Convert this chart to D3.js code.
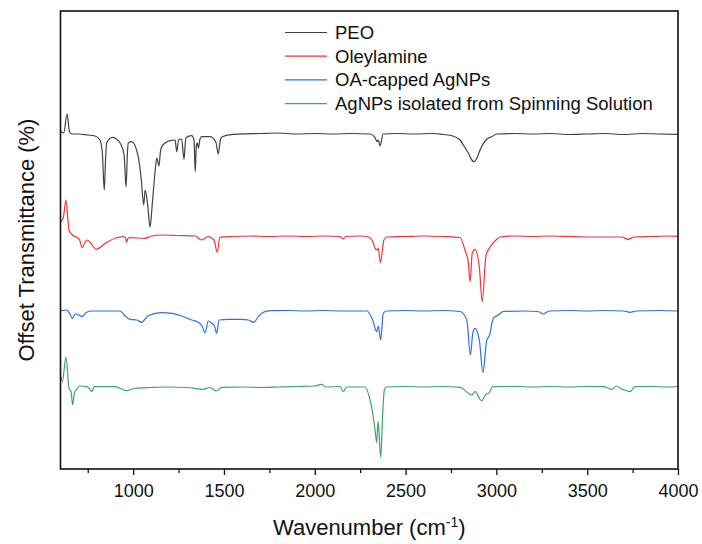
<!DOCTYPE html>
<html>
<head>
<meta charset="utf-8">
<script src="https://cdn.jsdelivr.net/npm/d3@7"></script>
<style>
  body { margin: 0; background: #fff; }
  text { font-family: "Liberation Sans", Arial, sans-serif; fill: #111; }
</style>
</head>
<body>
<svg id="chart" width="702" height="544"></svg>
<script>
// series names + colors (legend order)
var seriesNames = ['PEO', 'Oleylamine', 'OA-capped AgNPs', 'AgNPs isolated from Spinning Solution'];
var seriesColors = ['#404040', '#e8383e', '#3170d6', '#3ca46c'];

var majorTicks = [1000, 1500, 2000, 2500, 3000, 3500, 4000];
var minorTicks = [750, 1250, 1750, 2250, 2750, 3250, 3750];

// [wavenumber, offset transmittance]
var peo = [[600, 33.8], [618, 33.6], [636, 35.5], [650, 33.7], [665, 33.5], [700, 33.5], [750, 33.4],
    [790, 33.3], [817, 32.9], [830, 31.7], [841, 27.9], [848, 30.9], [854, 32.6], [885, 33.17],
    [928, 32.6], [950, 31.4], [961, 28.2], [968, 31.4], [973, 32.6], [992, 32.73], [1028, 31.23],
    [1045, 28.9], [1058, 26.4], [1066, 27.9], [1080, 26.4], [1093, 24.2], [1105, 26.4], [1120, 29.6],
    [1130, 31.1], [1142, 30.3], [1150, 31.7], [1157, 32.23], [1203, 32.83], [1231, 32.9], [1240, 31.73],
    [1250, 32.9], [1267, 33.0], [1280, 30.97], [1290, 33.1], [1322, 33.33], [1335, 32.9], [1342, 29.73],
    [1348, 32.4], [1354, 32.6], [1359, 32.07], [1368, 33.0], [1377, 33.23], [1423, 33.23], [1455, 32.7],
    [1469, 31.5], [1480, 32.9], [1490, 33.23], [1551, 33.47], [1700, 33.55], [1800, 33.6], [1900, 33.5],
    [2000, 33.55], [2100, 33.5], [2200, 33.55], [2304, 33.5], [2330, 33.2], [2344, 32.73], [2350, 32.9],
    [2359, 32.33], [2377, 33.5], [2450, 33.55], [2550, 33.5], [2650, 33.55], [2708, 33.45], [2760, 33.3],
    [2800, 32.9], [2818, 32.4], [2846, 31.57], [2865, 30.9], [2877, 30.73], [2893, 31.1], [2910, 31.9],
    [2947, 32.97], [2974, 33.23], [3002, 33.5], [3100, 33.55], [3200, 33.5], [3300, 33.55], [3400, 33.45],
    [3500, 33.5], [3600, 33.55], [3700, 33.45], [3800, 33.55], [3900, 33.5], [4000, 33.47]];

var oleylamine = [[600, 24.73], [615, 25.1], [630, 26.9], [640, 25.1], [647, 23.9], [665, 23.4],
    [689, 23.17], [705, 22.9], [720, 22.13], [735, 22.7], [748, 22.9], [770, 22.5], [795, 21.97],
    [850, 22.6], [900, 23.07], [946, 23.23], [958, 23.1], [964, 22.67], [972, 23.1], [983, 23.13],
    [1065, 23.07], [1102, 23.3], [1157, 23.4], [1250, 23.35], [1341, 23.3], [1377, 22.9], [1400, 23.15],
    [1414, 23.23], [1445, 22.9], [1463, 21.67], [1478, 23.17], [1550, 23.25], [1650, 23.3], [1750, 23.25],
    [1850, 23.3], [1950, 23.25], [2050, 23.3], [2140, 23.25], [2157, 23.0], [2170, 23.25], [2250, 23.3],
    [2295, 23.2], [2320, 22.7], [2332, 22.07], [2345, 21.9], [2350, 22.1], [2361, 20.63], [2381, 22.9],
    [2396, 23.2], [2500, 23.25], [2600, 23.3], [2700, 23.25], [2800, 23.15], [2827, 21.9], [2845, 20.7],
    [2855, 18.73], [2867, 21.57], [2882, 21.97], [2906, 20.23], [2922, 16.73], [2943, 21.4], [2961, 22.07],
    [2998, 22.9], [3020, 23.2], [3100, 23.3], [3200, 23.25], [3300, 23.3], [3400, 23.25], [3500, 23.2],
    [3600, 23.2], [3690, 23.2], [3726, 22.97], [3760, 23.2], [3850, 23.25], [3950, 23.3], [4000, 23.27]];

var oaAgNPs = [[600, 15.83], [634, 15.9], [652, 15.5], [665, 15.07], [680, 15.5], [702, 15.4],
    [717, 15.23], [744, 15.67], [772, 15.8], [850, 15.8], [928, 15.8], [959, 15.23], [983, 14.97],
    [1020, 14.9], [1047, 14.67], [1083, 15.33], [1157, 15.63], [1212, 15.57], [1267, 15.3], [1322, 14.9],
    [1359, 14.67], [1380, 14.3], [1396, 13.63], [1414, 14.8], [1432, 14.57], [1448, 14.3], [1460, 13.57],
    [1473, 14.9], [1524, 14.97], [1598, 14.97], [1634, 14.9], [1665, 14.67], [1689, 15.23], [1726, 15.73],
    [1763, 15.83], [1850, 15.85], [1950, 15.8], [2050, 15.85], [2150, 15.8], [2286, 15.8], [2319, 14.9],
    [2341, 13.73], [2350, 14.3], [2363, 12.9], [2377, 15.57], [2396, 15.8], [2500, 15.85], [2600, 15.8],
    [2700, 15.85], [2800, 15.75], [2837, 14.9], [2857, 11.4], [2870, 13.57], [2882, 14.07], [2906, 12.9],
    [2926, 9.63], [2947, 12.9], [2961, 13.3], [2983, 15.07], [3011, 15.4], [3038, 15.75], [3150, 15.8],
    [3230, 15.75], [3258, 15.5], [3290, 15.8], [3400, 15.85], [3500, 15.8], [3600, 15.85], [3700, 15.8],
    [3736, 15.67], [3770, 15.8], [3900, 15.85], [4000, 15.8]];

var spinAgNPs = [[600, 9.4], [610, 8.73], [630, 11.2], [647, 8.07], [658, 7.73], [667, 6.4], [676, 7.57],
    [689, 7.97], [707, 8.3], [744, 8.23], [762, 7.97], [772, 7.73], [786, 8.23], [900, 8.23], [964, 7.83],
    [1010, 8.07], [1100, 8.15], [1200, 8.2], [1300, 8.15], [1387, 7.97], [1420, 8.15], [1460, 7.8],
    [1488, 8.17], [1600, 8.2], [1700, 8.15], [1800, 8.2], [1900, 8.25], [2001, 8.3], [2038, 8.47],
    [2060, 8.2], [2140, 8.25], [2157, 7.73], [2175, 8.2], [2277, 8.2], [2300, 7.23], [2319, 5.57],
    [2332, 3.9], [2341, 2.63], [2348, 4.73], [2353, 3.9], [2363, 1.13], [2374, 5.57], [2383, 7.9],
    [2392, 8.2], [2500, 8.25], [2600, 8.2], [2700, 8.25], [2800, 8.17], [2846, 7.57], [2864, 7.4],
    [2882, 7.73], [2919, 6.83], [2943, 7.47], [2961, 7.63], [2980, 8.23], [3100, 8.25], [3200, 8.2],
    [3300, 8.25], [3400, 8.2], [3500, 8.25], [3589, 8.23], [3635, 7.97], [3663, 8.3], [3690, 8.0],
    [3718, 7.83], [3736, 7.73], [3763, 8.23], [3850, 8.25], [3950, 8.2], [4000, 8.25]];

var allSeries = [peo, oleylamine, oaAgNPs, spinAgNPs];

var svg = d3.select('#chart');
var pLeft = 60.5, pRight = 678, pTop = 11, pBottom = 469;

var x = d3.scaleLinear().domain([600, 4000]).range([pLeft, pRight]);
var y = d3.scaleLinear().domain([0, 45.8]).range([pBottom, pTop]);

var line = d3.line()
    .x(function (d) { return x(d[0]); })
    .y(function (d) { return y(d[1]); })
    .curve(d3.curveMonotoneX);

// spectra
svg.selectAll('.spectrum')
    .data(allSeries)
    .enter()
    .append('path')
    .attr('class', 'spectrum')
    .attr('d', line)
    .style('fill', 'none')
    .style('stroke', function (d, i) { return seriesColors[i]; })
    .style('stroke-width', 1.2);

// x axis, major + minor ticks
var xAxis = svg.append('g')
    .attr('transform', 'translate(0,' + pBottom + ')')
    .call(d3.axisBottom(x).tickValues(majorTicks).tickSize(6).tickSizeOuter(0).tickPadding(9)
        .tickFormat(d3.format('d')));
xAxis.select('.domain').remove();
xAxis.selectAll('line').attr('stroke', '#111').attr('stroke-width', 1.3);
xAxis.selectAll('text').style('font-size', '18px').attr('fill', '#111');

var minorAxis = svg.append('g')
    .attr('transform', 'translate(0,' + pBottom + ')')
    .call(d3.axisBottom(x).tickValues(minorTicks).tickSize(4).tickSizeOuter(0).tickFormat(''));
minorAxis.select('.domain').remove();
minorAxis.selectAll('line').attr('stroke', '#111').attr('stroke-width', 1.3);

// frame
svg.append('rect')
    .attr('x', pLeft).attr('y', pTop)
    .attr('width', pRight - pLeft).attr('height', pBottom - pTop)
    .style('fill', 'none')
    .style('stroke', '#111')
    .style('stroke-width', 1.6);

// legend
var legend = svg.selectAll('.legend')
    .data(seriesNames)
    .enter()
    .append('g')
    .attr('class', 'legend')
    .attr('transform', function (d, i) { return 'translate(285,' + (32.5 + i * 23.7) + ')'; });

legend.append('line')
    .attr('x1', 0).attr('x2', 42)
    .style('stroke', function (d, i) { return seriesColors[i]; })
    .style('stroke-width', 1.2);

legend.append('text')
    .attr('x', 50).attr('y', 6.5)
    .style('font-size', '18.5px')
    .text(function (d) { return d; });

// axis titles
var xTitle = svg.append('text')
    .attr('x', (pLeft + pRight) / 2)
    .attr('y', 535)
    .style('text-anchor', 'middle')
    .style('font-size', '22px');
xTitle.append('tspan').text('Wavenumber (cm');
xTitle.append('tspan').attr('dy', -8).style('font-size', '14px').text('-1');
xTitle.append('tspan').attr('dy', 8).text(')');

svg.append('text')
    .attr('transform', 'translate(34,' + ((pTop + pBottom) / 2) + ')rotate(-90)')
    .style('text-anchor', 'middle')
    .style('font-size', '22px')
    .text('Offset Transmittance (%)');
</script>
</body>
</html>
